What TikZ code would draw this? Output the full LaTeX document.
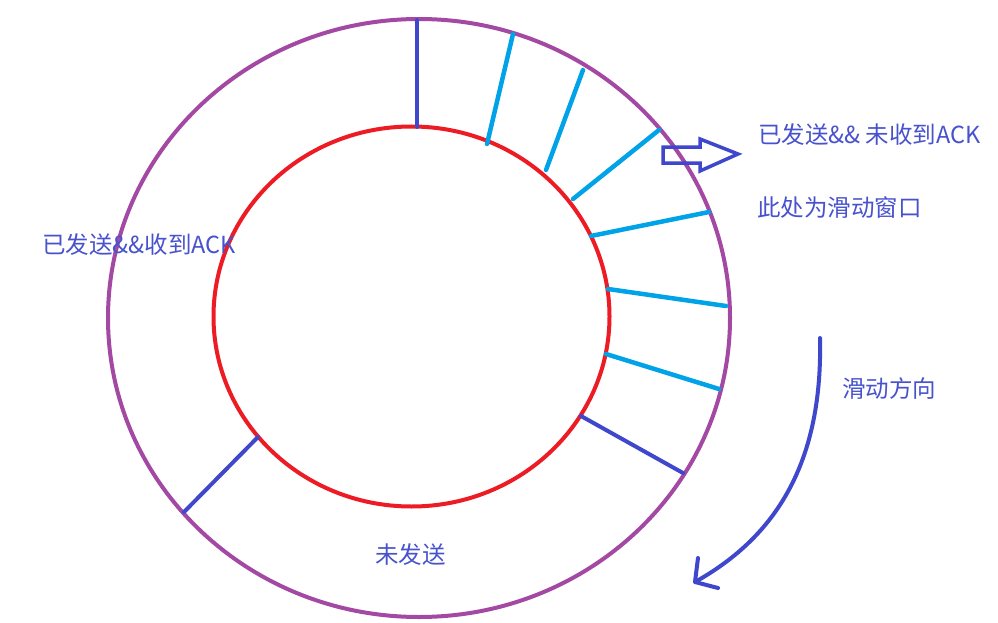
\documentclass[tikz,border=0pt]{standalone}
\usepackage{fontspec}
\newfontfamily\cjk{Noto Sans CJK SC}
\definecolor{ringpurple}{RGB}{163,73,164}
\definecolor{ringred}{RGB}{237,28,36}
\definecolor{darkblue}{RGB}{63,72,204}
\definecolor{lightblue}{RGB}{0,162,232}
\definecolor{textblue}{RGB}{72,82,205}
\begin{document}
\begin{tikzpicture}[x=1pt,y=-1pt,
  outerring/.style={draw=ringpurple,line width=4pt},
  innerring/.style={draw=ringred,line width=4pt},
  bound/.style={draw=darkblue,line width=4pt,line cap=round},
  slot/.style={draw=lightblue,line width=4.5pt,line cap=round},
  lbl/.style={text=textblue,font=\cjk\fontsize{23.5}{26}\selectfont,inner sep=0pt,anchor=west}]
\useasboundingbox (0,0) rectangle (998,623);
\fill[white] (0,0) rectangle (998,623);
% rings
\draw[outerring] (419,318) ellipse [x radius=311, y radius=299];
\draw[innerring] (411.5,316.5) ellipse [x radius=198, y radius=190];
% boundaries
\draw[bound] (417,20) -- (417,127);
\draw[bound] (581,416) -- (683,473);
\draw[bound] (258,437) -- (184,512);
% window slots
\draw[slot] (513,34) -- (487,144);
\draw[slot] (583,70) -- (546,170);
\draw[slot] (659,130) -- (573,199);
\draw[slot] (709,212) -- (591,236);
\draw[slot] (726,306) -- (608,289);
\draw[slot] (719,389) -- (606,354);
% hollow arrow
\draw[darkblue,line width=3.5pt,line join=miter]
  (663,147) -- (700,147) -- (700,139) -- (738,154) -- (700,171) -- (700,163) -- (663,163) -- cycle;
% direction arrow
\coordinate (arrstart) at (820,338);
\coordinate (arrtip) at (695,582);
\draw[darkblue,line width=4pt,line cap=round] (arrstart) .. controls (823,470) and (770,540) .. (arrtip);
\draw[darkblue,line width=4pt,line cap=round,line join=round] (698,558) -- (arrtip) -- (718,588);
% labels
\node[lbl] (t1) at (758,135) {已发送\&\& 未收到ACK};
\node[lbl] (t2) at (757,208) {此处为滑动窗口};
\node[lbl] (t3) at (42,245) {已发送\&\&收到ACK};
\node[lbl] (t4) at (375,555) {未发送};
\node[lbl] (t5) at (842,389) {滑动方向};
\end{tikzpicture}
\end{document}
